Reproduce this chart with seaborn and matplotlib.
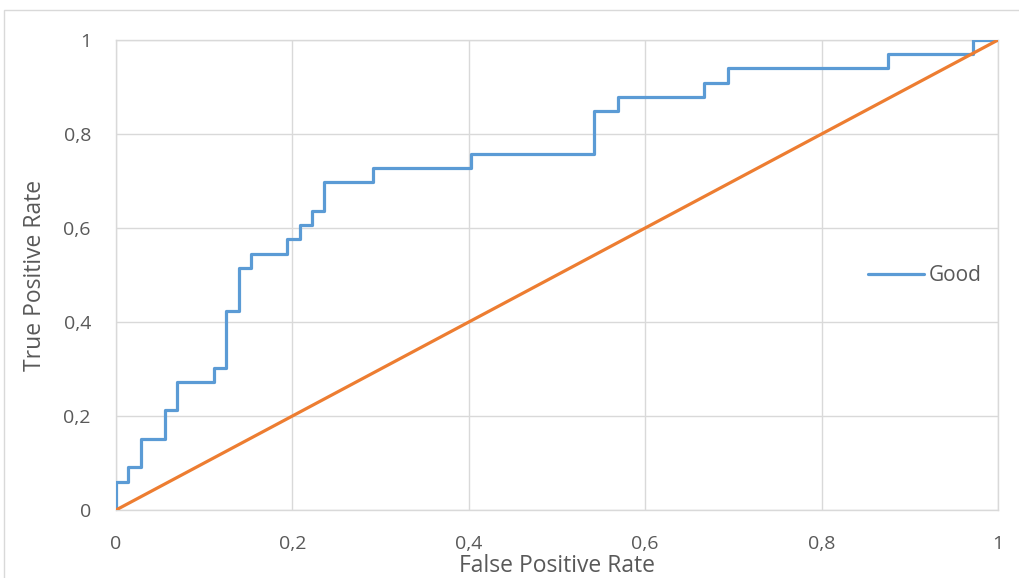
import matplotlib
matplotlib.use("Agg")
import matplotlib.pyplot as plt
import seaborn as sns
from matplotlib.patches import Rectangle

# ROC-Kurve (Ecken der Treppe)
fpr = [0, 0, 0.0139, 0.0278, 0.0556, 0.0694, 0.1111, 0.125, 0.1389, 0.1528,
       0.1944, 0.2083, 0.2222, 0.2361, 0.2917, 0.4028, 0.5417, 0.5694,
       0.6667, 0.6944, 0.875, 0.9722, 1.0]
tpr = [0, 0.0606, 0.0909, 0.1515, 0.2121, 0.2727, 0.3030, 0.4242, 0.5152, 0.5455,
       0.5758, 0.6061, 0.6364, 0.6970, 0.7273, 0.7576, 0.8485, 0.8788,
       0.9091, 0.9394, 0.9697, 1.0, 1.0]
diag_x = [0, 1]
diag_y = [0, 1]
ticks = [0, 0.2, 0.4, 0.6, 0.8, 1]
tick_labels = ["0", "0,2", "0,4", "0,6", "0,8", "1"]

sns.set_theme(style="white")
plt.rcParams["font.family"] = ["Open Sans", "DejaVu Sans"]

grey = "#595959"
grid_c = "#d9d9d9"
blue = "#5B9BD5"
orange = "#ED7D31"

fig = plt.figure(figsize=(10.2, 5.78), dpi=100)
ax = fig.add_axes([116 / 1020, 1 - 510 / 578, 882 / 1020, 470 / 578])

# Rahmen wie im Excel-Diagramm
fig.patches.append(Rectangle((4 / 1020, -0.1), 1.2, 1 - 10 / 578 + 0.1,
                             transform=fig.transFigure, fill=False,
                             edgecolor=grid_c, lw=1.0, zorder=0))

sns.lineplot(x=fpr, y=tpr, ax=ax, drawstyle="steps-post", sort=False,
             estimator=None, color=blue, lw=2.3, label="Good", zorder=3)
sns.lineplot(x=diag_x, y=diag_y, ax=ax, sort=False, estimator=None,
             color=orange, lw=2.3, legend=False, zorder=4)

ax.set_xlim(0, 1)
ax.set_ylim(0, 1)
ax.set_xticks(ticks)
ax.set_xticklabels(tick_labels)
ax.set_yticks(ticks)
ax.set_yticklabels(tick_labels)
ax.grid(True, color=grid_c, lw=1.0)
for s in ax.spines.values():
    s.set_color(grid_c)
    s.set_linewidth(1.0)
ax.tick_params(axis="both", length=0, labelsize=14, labelcolor=grey)
ax.tick_params(axis="x", pad=18)
ax.tick_params(axis="y", pad=18)

ax.set_xlabel("False Positive Rate", fontsize=16.5, color=grey, labelpad=1)
ax.set_ylabel("True Positive Rate", fontsize=16.5, color=grey, labelpad=12)

ax.legend(loc="center left", bbox_to_anchor=(0.8526, 0.498), frameon=False,
          fontsize=15, handlelength=2.7, handletextpad=0.2,
          borderpad=0, borderaxespad=0, labelcolor=grey)

fig.savefig("out.png", dpi=100)
